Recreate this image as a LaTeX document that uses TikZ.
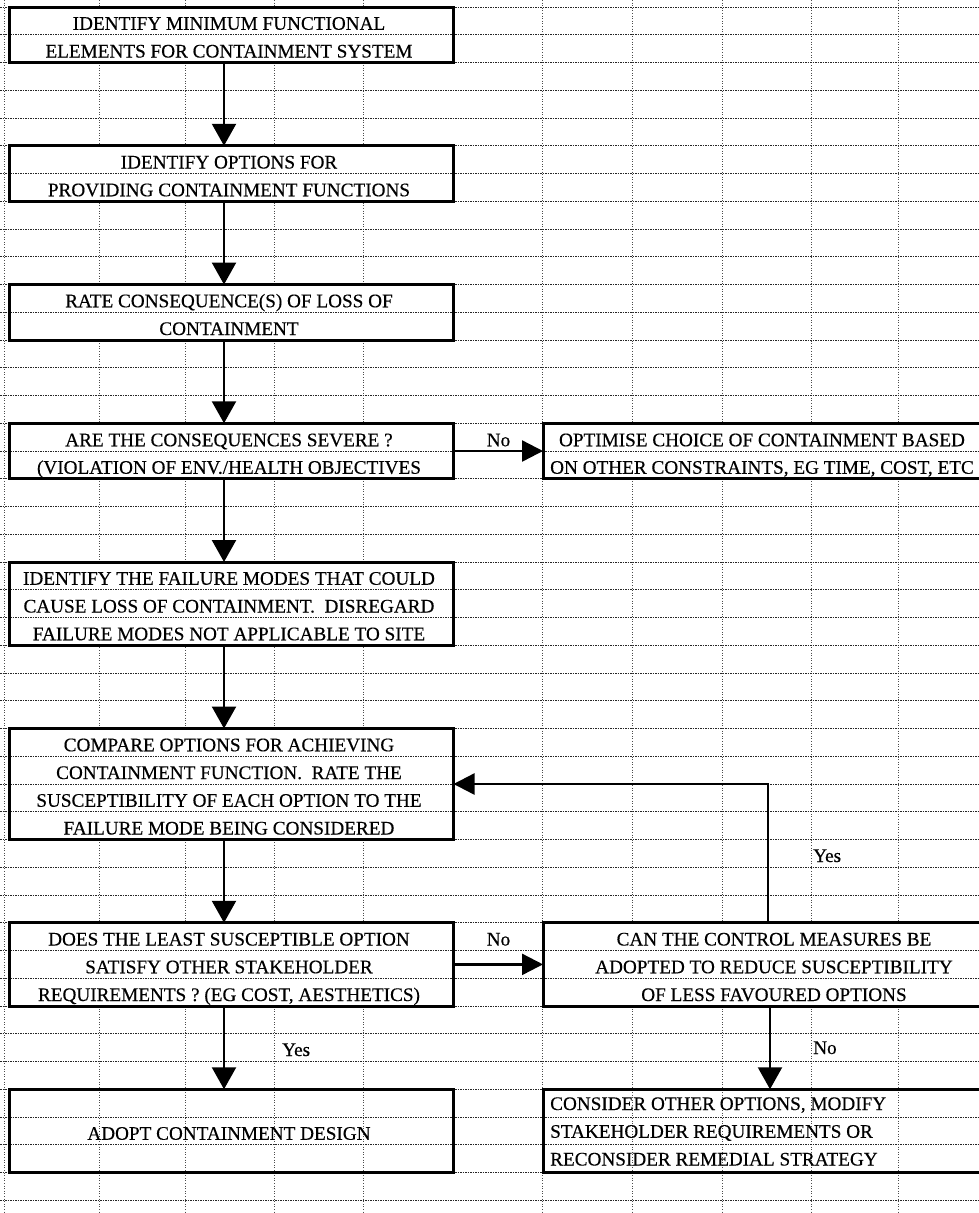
\documentclass[tikz,border=0pt]{standalone}
\usepackage{fontspec}
\setmainfont{Liberation Serif}
\newfontfamily\scanfont{Liberation Serif}[FakeBold=0.35]
\usetikzlibrary{arrows.meta}
\begin{document}
\begin{tikzpicture}[x=1pt,y=-1pt,
  hgrid/.style={black!85, line width=0.55pt, dash pattern=on 1.6pt off 0.9pt},
  vgrid/.style={black!70, line width=0.55pt, dash pattern=on 0.8pt off 1.8pt},
  boxarea/.style={rectangle, draw=none, inner sep=0pt, outer sep=0pt},
  border/.style={line width=3pt},
  lbl/.style={inner sep=0pt, anchor=base, font=\scanfont\fontsize{19.2}{23}\selectfont},
  lblw/.style={lbl, anchor=base west},
  arr/.style={line width=2.4pt, -{Triangle[width=24pt,length=22pt]}},
  harr/.style={line width=2.4pt, -{Triangle[width=21pt,length=21pt]}}]
\useasboundingbox (0,0) rectangle (978,1213);
\fill[white] (0,0) rectangle (978,1213);
% vertical grid
\foreach \x in {4,99,185,274,363,542,632,722,811,898}
  \draw[vgrid] (\x,0) -- (\x,1213);
% box areas
\node[boxarea, minimum width=444.5, minimum height=55.5, fill=white] (b1) at (231.25,34.75) {};
\node[boxarea, minimum width=444.5, minimum height=55.5, fill=white] (b2) at (231.25,173.5) {};
\node[boxarea, minimum width=444.5, minimum height=55.5, fill=white] (b3) at (231.25,312.25) {};
\node[boxarea, minimum width=444.5, minimum height=55.5, fill=white] (b4) at (231.25,451) {};
\node[boxarea, minimum width=444.5, minimum height=83.25, fill=white] (b5) at (231.25,603.625) {};
\node[boxarea, minimum width=444.5, minimum height=111, fill=white] (b6) at (231.25,784) {};
\node[boxarea, minimum width=444.5, minimum height=83.25, fill=white] (b7) at (231.25,964.375) {};
\node[boxarea, minimum width=444.5, minimum height=83.25] (b8) at (231.25,1130.875) {};
\node[boxarea, minimum width=447, minimum height=55.5, fill=white] (opt) at (766.5,451) {};
\node[boxarea, minimum width=462, minimum height=83.25, fill=white] (can) at (774,964.375) {};
\node[boxarea, minimum width=462, minimum height=83.25] (cons) at (774,1130.875) {};
% horizontal grid
\foreach \k in {0,...,43}
  \draw[hgrid] (0,7+27.75*\k) -- (978,7+27.75*\k);
% box borders
\foreach \n in {b1,b2,b3,b4,b5,b6,b7,b8,opt,can,cons}
  \draw[border] (\n.north west) rectangle (\n.south east);
% texts
\node[lbl] (t1a) at (229,29.75) {IDENTIFY MINIMUM FUNCTIONAL};
\node[lbl] (t1b) at (229,57.5) {ELEMENTS FOR CONTAINMENT SYSTEM};
\node[lbl] (t2a) at (229,168.5) {IDENTIFY OPTIONS FOR};
\node[lbl] (t2b) at (229,196.25) {PROVIDING CONTAINMENT FUNCTIONS};
\node[lbl] (t3a) at (229,307.25) {RATE CONSEQUENCE(S) OF LOSS OF};
\node[lbl] (t3b) at (229,335) {CONTAINMENT};
\node[lbl] (t4a) at (229,446.25) {ARE THE CONSEQUENCES SEVERE ?};
\node[lbl] (t4b) at (229,473.75) {(VIOLATION OF ENV./HEALTH OBJECTIVES};
\node[lbl] (t5a) at (229,584.75) {IDENTIFY THE FAILURE MODES THAT COULD};
\node[lbl] (t5b) at (229,612.5) {CAUSE LOSS OF CONTAINMENT.\ \ DISREGARD};
\node[lbl] (t5c) at (229,640.25) {FAILURE MODES NOT APPLICABLE TO SITE};
\node[lbl] (t6a) at (229,751.25) {COMPARE OPTIONS FOR ACHIEVING};
\node[lbl] (t6b) at (229,779) {CONTAINMENT FUNCTION.\ \ RATE THE};
\node[lbl] (t6c) at (229,806.75) {SUSCEPTIBILITY OF EACH OPTION TO THE};
\node[lbl] (t6d) at (229,834.5) {FAILURE MODE BEING CONSIDERED};
\node[lbl] (t7a) at (229,945.5) {DOES THE LEAST SUSCEPTIBLE OPTION};
\node[lbl] (t7b) at (229,973.25) {SATISFY OTHER STAKEHOLDER};
\node[lbl] (t7c) at (229,1001) {REQUIREMENTS ? (EG COST, AESTHETICS)};
\node[lbl] (t8a) at (229,1139.75) {ADOPT CONTAINMENT DESIGN};
\node[lbl] (toa) at (762,446.25) {OPTIMISE CHOICE OF CONTAINMENT BASED};
\node[lbl] (tob) at (762,473.75) {ON OTHER CONSTRAINTS, EG TIME, COST, ETC};
\node[lbl] (tca) at (774,945.5) {CAN THE CONTROL MEASURES BE};
\node[lbl] (tcb) at (774,973.25) {ADOPTED TO REDUCE SUSCEPTIBILITY};
\node[lbl] (tcc) at (774,1001) {OF LESS FAVOURED OPTIONS};
\node[lblw] (tda) at (550,1110) {CONSIDER OTHER OPTIONS, MODIFY};
\node[lblw] (tdb) at (550,1137.75) {STAKEHOLDER REQUIREMENTS OR};
\node[lblw] (tdc) at (550,1165.5) {RECONSIDER REMEDIAL STRATEGY};
% labels
\node[lbl] (no1) at (498.5,446.25) {No};
\node[lbl] (no2) at (498.5,945.5) {No};
\node[lblw] (yes1) at (282,1056) {Yes};
\node[lblw] (yes2) at (813,862) {Yes};
\node[lblw] (no3) at (813,1054) {No};
% connectors
\coordinate (ax) at (224,0);
\coordinate (fb) at (768,784);
\coordinate (nx) at (770,0);
\draw[arr] (b1.south -| ax) -- (b2.north -| ax);
\draw[arr] (b2.south -| ax) -- (b3.north -| ax);
\draw[arr] (b3.south -| ax) -- (b4.north -| ax);
\draw[arr] (b4.south -| ax) -- (b5.north -| ax);
\draw[arr] (b5.south -| ax) -- (b6.north -| ax);
\draw[arr] (b6.south -| ax) -- (b7.north -| ax);
\draw[arr] (b7.south -| ax) -- (b8.north -| ax);
\draw[harr] (b4.east) -- (opt.west);
\draw[harr] (b7.east) -- (can.west);
\draw[harr] (can.north -| fb) |- (b6.east |- fb);
\draw[arr] (can.south -| nx) -- (cons.north -| nx);
\end{tikzpicture}
\end{document}
